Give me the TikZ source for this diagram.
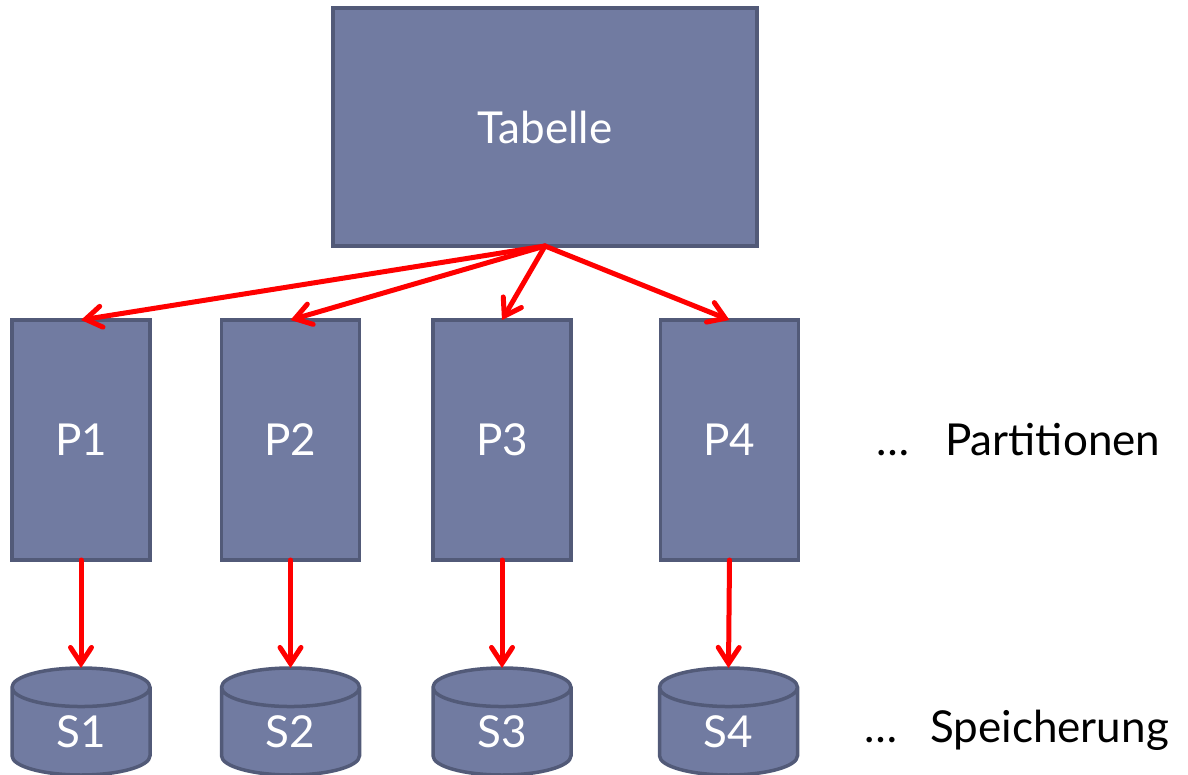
\documentclass[tikz,border=0pt]{standalone}
\usepackage{fontspec}
\setmainfont{Lato}
\usetikzlibrary{arrows.meta,shapes.geometric}
\definecolor{boxfill}{HTML}{717BA1}
\definecolor{boxline}{HTML}{525A78}
\definecolor{arrred}{HTML}{FF0000}
\begin{document}
\begin{tikzpicture}[x=1pt,y=-1pt,
  box/.style={draw=boxline, fill=boxfill, line width=3.5pt, text=white,
    font=\fontsize{44}{50}\selectfont, inner sep=0pt, outer sep=0pt},
  part/.style={box, rectangle, minimum width=138pt, minimum height=240pt},
  store/.style={box, cylinder, shape border rotate=90, aspect=0.78,
    minimum width=138pt, minimum height=107pt, anchor=north},
  link/.style={draw=arrred, line width=5pt, line cap=round,
    -{Straight Barb[length=16pt,width=21pt,line cap=round]}},
  note/.style={font=\fontsize{44}{50}\selectfont, anchor=base west, inner sep=0pt}]
\useasboundingbox (0,0) rectangle (1188,775);

\node[box, rectangle, minimum width=424pt, minimum height=238pt] (T) at (545,127) {Tabelle};

\node[part] (P1) at (81,440) {P1};
\node[part] (P2) at (290.5,440) {P2};
\node[part] (P3) at (502,440) {P3};
\node[part] (P4) at (729.5,440) {P4};

\node[store] (S1) at (81,668) {S1};
\node[store] (S2) at (290.5,668) {S2};
\node[store] (S3) at (502,668) {S3};
\node[store] (S4) at (728.5,668) {S4};

\node[note] (np) at (876,455) {…\hspace{36pt}Partitionen};
\node[note] (ns) at (864,742) {…\hspace{33pt}Speicherung};

\foreach \i in {1,2,3,4} {
  \draw[link] (T.south) -- (P\i.north);
  \draw[link] (P\i.south) -- (S\i.north);
}
\end{tikzpicture}
\end{document}
